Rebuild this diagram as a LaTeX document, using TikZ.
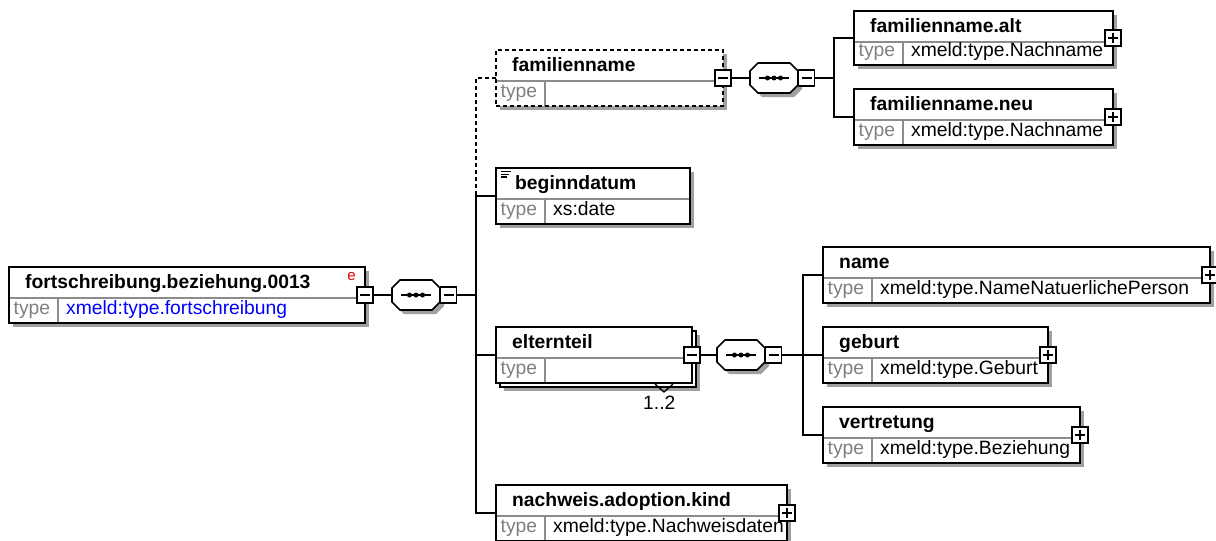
\documentclass[tikz,border=0pt]{standalone}
\usepackage{fontspec}
\setmainfont{Liberation Sans}
\definecolor{shadowc}{RGB}{160,160,160}
\definecolor{divc}{RGB}{140,140,140}
\definecolor{typec}{RGB}{128,128,128}
\definecolor{valblue}{RGB}{0,0,255}
\definecolor{ered}{RGB}{230,0,0}
\tikzset{
  elembox/.style={draw, rectangle, line width=1.7pt, inner sep=0pt, outer sep=0pt, anchor=north west},
  divline/.style={draw=divc, line width=1.2pt},
  shadowfill/.style={fill=shadowc},
  titletext/.style={anchor=base west, inner sep=0pt, font=\bfseries\fontsize{19.3}{22}\selectfont},
  typelabel/.style={anchor=base west, inner sep=0pt, text=typec, font=\fontsize{19.3}{22}\selectfont},
  typevalue/.style={anchor=base west, inner sep=0pt, font=\fontsize{19.3}{22}\selectfont},
  conn/.style={line width=1.6pt},
  pmbase/.style={draw, fill=white, rectangle, line width=1.4pt, minimum size=16pt, inner sep=0pt, outer sep=0pt},
  minusbox/.style={pmbase, path picture={\draw[line width=1.8pt] ([xshift=-5pt]path picture bounding box.center) -- ([xshift=5pt]path picture bounding box.center);}},
  plusbox/.style={pmbase, path picture={\draw[line width=1.8pt] ([xshift=-5pt]path picture bounding box.center) -- ([xshift=5pt]path picture bounding box.center) ([yshift=-5pt]path picture bounding box.center) -- ([yshift=5pt]path picture bounding box.center);}},
  seqnode/.style={rectangle, minimum width=48pt, minimum height=30pt, inner sep=0pt, outer sep=0pt},
  seqborder/.style={draw, fill=white, line width=1.6pt},
  smalltext/.style={inner sep=0pt, font=\fontsize{15}{17}\selectfont},
}
\newcommand\xsdshadow[4]{\fill[shadowfill] (#1+4,#2+4) rectangle (#3+4,#4+4);}
\newcommand\xsdelem[8]{%
  \pgfmathsetmacro\xew{#4-#2}%
  \pgfmathsetmacro\xeh{#5-#3}%
  \fill[white] (#2,#3) rectangle (#4,#5);
  \draw[divline] (#2,#3+31) -- (#4,#3+31);
  \draw[divline] (#2+49,#3+31) -- (#2+49,#5);
  \node[elembox,#6,minimum width=\xew pt,minimum height=\xeh pt] (#1) at (#2,#3) {};
  \node[titletext] (#1-title) at (#2+16,#3+21.5) {#7};
  \node[typelabel] (#1-type) at (#2+4.5,#5-8.5) {type};
  \node[typevalue] (#1-value) at (#2+57,#5-8.5) {#8};
}
\newcommand\octpath[2]{(#1-16,#2-15) -- (#1+16,#2-15) -- (#1+24,#2-7) -- (#1+24,#2+7) -- (#1+16,#2+15) -- (#1-16,#2+15) -- (#1-24,#2+7) -- (#1-24,#2-7) -- cycle}
\newcommand\xsdseq[3]{%
  \fill[shadowfill] \octpath{#2+4}{#3+4};
  \draw[seqborder] \octpath{#2}{#3};
  \node[seqnode] (#1) at (#2,#3) {};
  \draw[line width=1.6pt] (#2-15,#3) -- (#2+15,#3);
  \fill (#2-6.5,#3) circle (2.5);
  \fill (#2,#3) circle (2.5);
  \fill (#2+6.5,#3) circle (2.5);
}
\begin{document}
\begin{tikzpicture}[x=1pt,y=-1pt]
\useasboundingbox (0,0) rectangle (1216,541);
% shadows
\xsdshadow{9}{267}{365}{323}
\xsdshadow{496}{50}{723}{106}
\xsdshadow{854}{11}{1113}{65}
\xsdshadow{854}{89}{1113}{145}
\xsdshadow{496}{168}{690}{224}
\xsdshadow{500}{331}{696}{387}
\xsdshadow{823}{247}{1210}{303}
\xsdshadow{823}{327}{1048}{383}
\xsdshadow{823}{407}{1080}{463}
\xsdshadow{496}{485}{787}{541}
% back box of elternteil (multiple occurrence)
\draw[fill=white, line width=1.5pt] (500,331) rectangle (696,387);
% elements
\xsdelem{root}{9}{267}{365}{323}{}{fortschreibung.beziehung.0013}{\color{valblue}xmeld:type.fortschreibung}
\xsdelem{fam}{496}{50}{723}{106}{dash pattern=on 4pt off 3pt}{familienname}{}
\xsdelem{alt}{854}{11}{1113}{65}{}{familienname.alt}{xmeld:type.Nachname}
\xsdelem{neu}{854}{89}{1113}{145}{}{familienname.neu}{xmeld:type.Nachname}
\xsdelem{beg}{496}{168}{690}{224}{}{\hspace{3pt}beginndatum}{xs:date}
\xsdelem{elt}{496}{327}{692}{383}{}{elternteil}{}
\xsdelem{name}{823}{247}{1210}{303}{}{name}{xmeld:type.NameNatuerlichePerson}
\xsdelem{geb}{823}{327}{1048}{383}{}{geburt}{xmeld:type.Geburt}
\xsdelem{ver}{823}{407}{1080}{463}{}{vertretung}{xmeld:type.Beziehung}
\xsdelem{nach}{496}{485}{787}{541}{}{nachweis.adoption.kind}{xmeld:type.Nachweisdaten}
% beginndatum icon
\draw[line width=1.2pt] (501,171.5) -- (511,171.5) (501,174.3) -- (509,174.3) (501,177) -- (507,177);
% red e
\node[smalltext, text=ered] (roote) at (351.5,277) {e};
% compositors
\xsdseq{rootseq}{416}{295}
\xsdseq{famseq}{774}{78}
\xsdseq{eltseq}{741}{355}
% plus / minus boxes
\node[minusbox] (rootm) at (root.east) {};
\node[minusbox] (rootsm) at (448.5,295) {};
\node[minusbox] (famm) at (fam.east) {};
\node[minusbox] (famsm) at (806.5,78) {};
\node[minusbox] (eltm) at (elt.east) {};
\node[minusbox] (eltsm) at (773.5,355) {};
\node[plusbox] (altp) at (alt.east) {};
\node[plusbox] (neup) at (neu.east) {};
\node[plusbox] (namep) at (name.east) {};
\node[plusbox] (gebp) at (geb.east) {};
\node[plusbox] (verp) at (ver.east) {};
\node[plusbox] (nachp) at (nach.east) {};
% bus coordinates
\coordinate (mbus) at (476,295);
\coordinate (fbus) at (834,78);
\coordinate (ebus) at (803,355);
% connectors
\draw[conn] (rootm.east) -- (rootseq.west);
\draw[conn] (rootsm.east) -- (mbus);
\draw[conn] (beg.west) -| (mbus);
\draw[conn] (elt.west) -| (mbus);
\draw[conn] (nach.west) -| (mbus);
\draw[conn, dash pattern=on 4pt off 3pt] (fam.west) -| (mbus |- beg.west);
\draw[conn] (famm.east) -- (famseq.west);
\draw[conn] (famsm.east) -- (fbus);
\draw[conn] (alt.west) -| (fbus);
\draw[conn] (neu.west) -| (fbus);
\draw[conn] (eltm.east) -- (eltseq.west);
\draw[conn] (eltsm.east) -- (ebus);
\draw[conn] (name.west) -| (ebus);
\draw[conn] (geb.west) -- (ebus);
\draw[conn] (ver.west) -| (ebus);
% multiplicity
\draw[line width=1.3pt] (655,384) -- (664,392) -- (673,384);
\node[typevalue] (eltmult) at (643,409) {1..2};
\end{tikzpicture}
\end{document}
